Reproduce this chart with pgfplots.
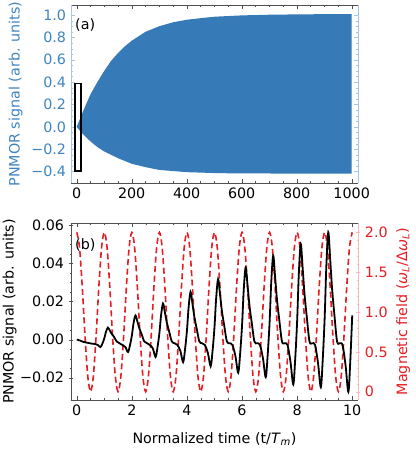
\documentclass[border=0pt]{standalone}
\usepackage{fontspec}
\setmainfont{DejaVu Sans}
\usepackage{pgfplots}
\pgfplotsset{compat=1.18}

\definecolor{fillblue}{RGB}{54,122,183}
\definecolor{textblue}{RGB}{62,132,192}
\definecolor{spineblue}{RGB}{165,198,230}
\definecolor{dashred}{RGB}{230,30,36}
\definecolor{spinered}{RGB}{248,185,185}
\definecolor{framegray}{RGB}{80,80,80}

\pgfplotsset{
  panel/.style={
    width=287pt, height=177pt, scale only axis,
    tick align=inside, major tick length=4pt, minor tick length=2.2pt,
    /pgf/number format/assume math mode=true,
    scaled ticks=false,
    tick label style={font=\fontsize{14.3}{16}\selectfont},
    label style={font=\fontsize{14.3}{16}\selectfont},
  },
}

\begin{document}
\fontsize{14.3}{16}\selectfont
\begin{tikzpicture}
\path[use as bounding box] (-71pt,5pt) rectangle (344pt,-449pt);

% panel (a)
\begin{axis}[panel, at={(0pt,0pt)}, anchor=north west, height=178pt,
  xmin=-20.7, xmax=1023, ymin=-0.502, ymax=1.09,
  xtick={0,200,400,600,800,1000}, xticklabels={0,200,400,600,800,1000},
  minor x tick num=3,
  ytick={-0.4,-0.2,0,0.2,0.4,0.6,0.8,1.0},
  yticklabels={−0.4,−0.2,0.0,0.2,0.4,0.6,0.8,1.0},
  minor y tick num=3,
  separate axis lines,
  x axis line style={framegray},
  y axis line style={spineblue},
  xtick style={framegray}, ytick style={spineblue},
  yticklabel style={textblue},
  ylabel={PNMOR signal (arb. units)},
  ylabel style={textblue, at={(axis description cs:-0.193,0.5)}, anchor=center},
]
\addplot[fill=fillblue, draw=none] coordinates {
  (0,0) (10,0.06) (25,0.15) (50,0.29) (75,0.40) (100,0.50) (125,0.59)
  (150,0.66) (175,0.72) (200,0.77) (250,0.85) (300,0.90) (350,0.935)
  (400,0.958) (450,0.972) (500,0.985) (600,0.997) (700,1.003) (800,1.006)
  (900,1.008) (1000,1.008)
  (1000,-0.418) (900,-0.418) (800,-0.418) (700,-0.417) (600,-0.417)
  (500,-0.413) (400,-0.405) (300,-0.385) (250,-0.36) (200,-0.33)
  (150,-0.28) (100,-0.22) (75,-0.18) (50,-0.13) (25,-0.07) (10,-0.03) (0,0)
} -- cycle;
\addplot[black, line width=1.3pt, line join=miter, mark=none] coordinates {
  (-6,-0.396) (15.6,-0.396) (15.6,0.385) (-6,0.385) (-6,-0.396)
} -- cycle;
\node[anchor=north west, inner sep=0pt] at (rel axis cs:0.014,0.927) {(a)};
\end{axis}

% panel (b), right axis: magnetic field
\begin{axis}[panel, at={(0pt,-218pt)}, anchor=north west,
  xmin=-0.21, xmax=10.21, ymin=-0.104, ymax=2.117,
  axis x line=none, axis y line=right,
  ytick={0,0.5,1,1.5,2}, yticklabels={0,0.5,1.0,1.5,2.0}, minor y tick num=4,
  y axis line style={spinered, -}, ytick style={spinered},
  yticklabel style={dashred},
  ylabel={Magnetic field (\textit{ω}\textsubscript{\textit{L}}/Δ\textit{ω}\textsubscript{\textit{L}})},
  ylabel style={dashred, at={(axis description cs:1.157,0.5)}, anchor=center},
]
\addplot[dashred, line width=1.6pt, dash pattern=on 6pt off 3.5pt, smooth, mark=none] coordinates {
  (0.0,2) (0.1,1.809) (0.2,1.309) (0.3,0.691) (0.4,0.191) (0.5,0) (0.6,0.191) (0.7,0.691) (0.8,1.309) (0.9,1.809)
  (1.0,2) (1.1,1.809) (1.2,1.309) (1.3,0.691) (1.4,0.191) (1.5,0) (1.6,0.191) (1.7,0.691) (1.8,1.309) (1.9,1.809)
  (2.0,2) (2.1,1.809) (2.2,1.309) (2.3,0.691) (2.4,0.191) (2.5,0) (2.6,0.191) (2.7,0.691) (2.8,1.309) (2.9,1.809)
  (3.0,2) (3.1,1.809) (3.2,1.309) (3.3,0.691) (3.4,0.191) (3.5,0) (3.6,0.191) (3.7,0.691) (3.8,1.309) (3.9,1.809)
  (4.0,2) (4.1,1.809) (4.2,1.309) (4.3,0.691) (4.4,0.191) (4.5,0) (4.6,0.191) (4.7,0.691) (4.8,1.309) (4.9,1.809)
  (5.0,2) (5.1,1.809) (5.2,1.309) (5.3,0.691) (5.4,0.191) (5.5,0) (5.6,0.191) (5.7,0.691) (5.8,1.309) (5.9,1.809)
  (6.0,2) (6.1,1.809) (6.2,1.309) (6.3,0.691) (6.4,0.191) (6.5,0) (6.6,0.191) (6.7,0.691) (6.8,1.309) (6.9,1.809)
  (7.0,2) (7.1,1.809) (7.2,1.309) (7.3,0.691) (7.4,0.191) (7.5,0) (7.6,0.191) (7.7,0.691) (7.8,1.309) (7.9,1.809)
  (8.0,2) (8.1,1.809) (8.2,1.309) (8.3,0.691) (8.4,0.191) (8.5,0) (8.6,0.191) (8.7,0.691) (8.8,1.309) (8.9,1.809)
  (9.0,2) (9.1,1.809) (9.2,1.309) (9.3,0.691) (9.4,0.191) (9.5,0) (9.6,0.191) (9.7,0.691) (9.8,1.309) (9.9,1.809)
  (10.0,2)
};
\end{axis}

% panel (b), left axis: PNMOR signal
\begin{axis}[panel, at={(0pt,-218pt)}, anchor=north west,
  xmin=-0.21, xmax=10.21, ymin=-0.0317, ymax=0.0612,
  axis x line=box, axis y line=left, ytick pos=left,
  axis line style={framegray, -},
  xtick={0,2,4,6,8,10}, minor x tick num=3,
  ytick={-0.02,0,0.02,0.04,0.06}, yticklabels={−0.02,0.00,0.02,0.04,0.06},
  minor y tick num=3,
  tick style={framegray},
  xlabel={Normalized time (t/\textit{T}\textsubscript{\textit{m}})},
  xlabel style={at={(axis description cs:0.5,-0.22)}, anchor=center},
  ylabel={PNMOR signal (arb. units)},
  ylabel style={at={(axis description cs:-0.214,0.5)}, anchor=center},
]
\addplot[black, line width=1.8pt, smooth, tension=0.55, mark=none] coordinates {
  (0,0) (0.12,-0.0005) (0.24,-0.0012) (0.4,-0.0017) (0.54,-0.0021) (0.66,-0.0023) (0.76,-0.0028) (0.86,-0.0039)
  (0.93,-0.0021) (1.00,0.0007) (1.06,0.0041) (1.13,0.0063) (1.20,0.0047) (1.27,0.0030) (1.35,0.0015) (1.45,-0.0010) (1.55,-0.0019) (1.65,-0.0028) (1.76,-0.0038) (1.86,-0.0065)
  (1.93,-0.0030) (2.00,0.0021) (2.06,0.0085) (2.13,0.0127) (2.20,0.0095) (2.27,0.0060) (2.35,0.0030) (2.45,-0.0010) (2.55,-0.0019) (2.65,-0.0028) (2.76,-0.0046) (2.86,-0.0091)
  (2.93,-0.0041) (3.00,0.0035) (3.06,0.0127) (3.13,0.0189) (3.20,0.0142) (3.27,0.0089) (3.35,0.0045) (3.45,-0.0010) (3.55,-0.0019) (3.65,-0.0028) (3.76,-0.0059) (3.86,-0.0118)
  (3.93,-0.0052) (4.00,0.0048) (4.06,0.0169) (4.13,0.0250) (4.20,0.0188) (4.27,0.0118) (4.35,0.0060) (4.45,-0.0010) (4.55,-0.0019) (4.65,-0.0028) (4.76,-0.0070) (4.86,-0.0140)
  (4.93,-0.0058) (5.00,0.0066) (5.06,0.0216) (5.13,0.0317) (5.20,0.0238) (5.27,0.0149) (5.35,0.0076) (5.45,-0.0010) (5.55,-0.0019) (5.65,-0.0028) (5.76,-0.0087) (5.86,-0.0174)
  (5.93,-0.0075) (6.00,0.0074) (6.06,0.0257) (6.13,0.0378) (6.20,0.0284) (6.27,0.0178) (6.35,0.0091) (6.45,-0.0010) (6.55,-0.0019) (6.65,-0.0028) (6.76,-0.0099) (6.86,-0.0197)
  (6.93,-0.0082) (7.00,0.0090) (7.06,0.0300) (7.13,0.0440) (7.20,0.0330) (7.27,0.0207) (7.35,0.0106) (7.45,-0.0010) (7.55,-0.0019) (7.65,-0.0028) (7.76,-0.0118) (7.86,-0.0235)
  (7.93,-0.0102) (8.00,0.0097) (8.06,0.0340) (8.13,0.0502) (8.20,0.0377) (8.27,0.0236) (8.35,0.0120) (8.45,-0.0010) (8.55,-0.0019) (8.65,-0.0028) (8.76,-0.0125) (8.86,-0.0250)
  (8.93,-0.0104) (9.00,0.0116) (9.06,0.0384) (9.13,0.0563) (9.20,0.0422) (9.27,0.0265) (9.35,0.0135) (9.45,-0.0010) (9.55,-0.0019) (9.65,-0.0030) (9.76,-0.0137) (9.86,-0.0274)
  (9.93,-0.0112) (10.00,0.0127)
};
\node[anchor=north west, inner sep=0pt] at (rel axis cs:0.014,0.915) {(b)};
\end{axis}
\end{tikzpicture}
\end{document}
